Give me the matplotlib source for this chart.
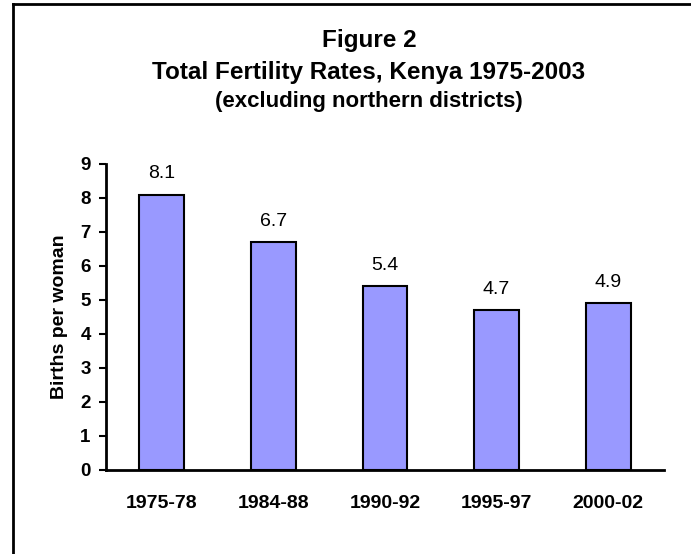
import matplotlib
matplotlib.use("Agg")
import matplotlib.pyplot as plt
from matplotlib.lines import Line2D

plt.rcParams['font.family'] = ['Liberation Sans', 'DejaVu Sans']

categories = ["1975-78", "1984-88", "1990-92", "1995-97", "2000-02"]
values = [8.1, 6.7, 5.4, 4.7, 4.9]
value_labels = ["8.1", "6.7", "5.4", "4.7", "4.9"]
yticks = [0, 1, 2, 3, 4, 5, 6, 7, 8, 9]

W, H = 691, 554
fig = plt.figure(figsize=(W / 100, H / 100), dpi=100)
fig.patch.set_facecolor("white")

ax = fig.add_axes([106 / W, 1 - 470 / H, (664 - 106) / W, (470 - 164) / H])
x = list(range(len(categories)))
ax.bar(x, values, width=0.4, color="#9999FF", edgecolor="black", linewidth=1.5, zorder=2)
for xi, v, lab in zip(x, values, value_labels):
    ax.annotate(lab, (xi, v), xytext=(0, 9), textcoords="offset points",
                ha="center", va="bottom", fontsize=14, color="black")

ax.set_xlim(-0.5, len(categories) - 0.5)
ax.set_ylim(0, 9)
ax.set_yticks(yticks)
ax.set_yticklabels([str(t) for t in yticks], fontsize=13.5, fontweight="bold")
ax.set_xticks(x)
ax.set_xticklabels(categories, fontsize=14, fontweight="bold")
ax.tick_params(axis="x", length=0, pad=18)
ax.tick_params(axis="y", length=5, width=1.5, direction="out", pad=6)
for s in ["top", "right"]:
    ax.spines[s].set_visible(False)
for s in ["left", "bottom"]:
    ax.spines[s].set_linewidth(2)
ax.set_ylabel("Births per woman", fontsize=14, fontweight="bold", labelpad=9)

cx = 369 / W
fig.text(cx, 1 - 47 / H, "Figure 2", ha="center", va="baseline", fontsize=17.5, fontweight="bold")
fig.text(cx, 1 - 79 / H, "Total Fertility Rates, Kenya 1975-2003", ha="center", va="baseline",
         fontsize=17.5, fontweight="bold")
fig.text(cx, 1 - 107 / H, "(excluding northern districts)", ha="center", va="baseline",
         fontsize=16, fontweight="bold")

# figure frame (left and top edges)
fig.add_artist(Line2D([12.5 / W, 12.5 / W], [0, 1 - 4 / H], transform=fig.transFigure,
                      color="black", linewidth=2))
fig.add_artist(Line2D([12.5 / W, 1], [1 - 4 / H, 1 - 4 / H], transform=fig.transFigure,
                      color="black", linewidth=2))

fig.savefig("out.png", dpi=100)
